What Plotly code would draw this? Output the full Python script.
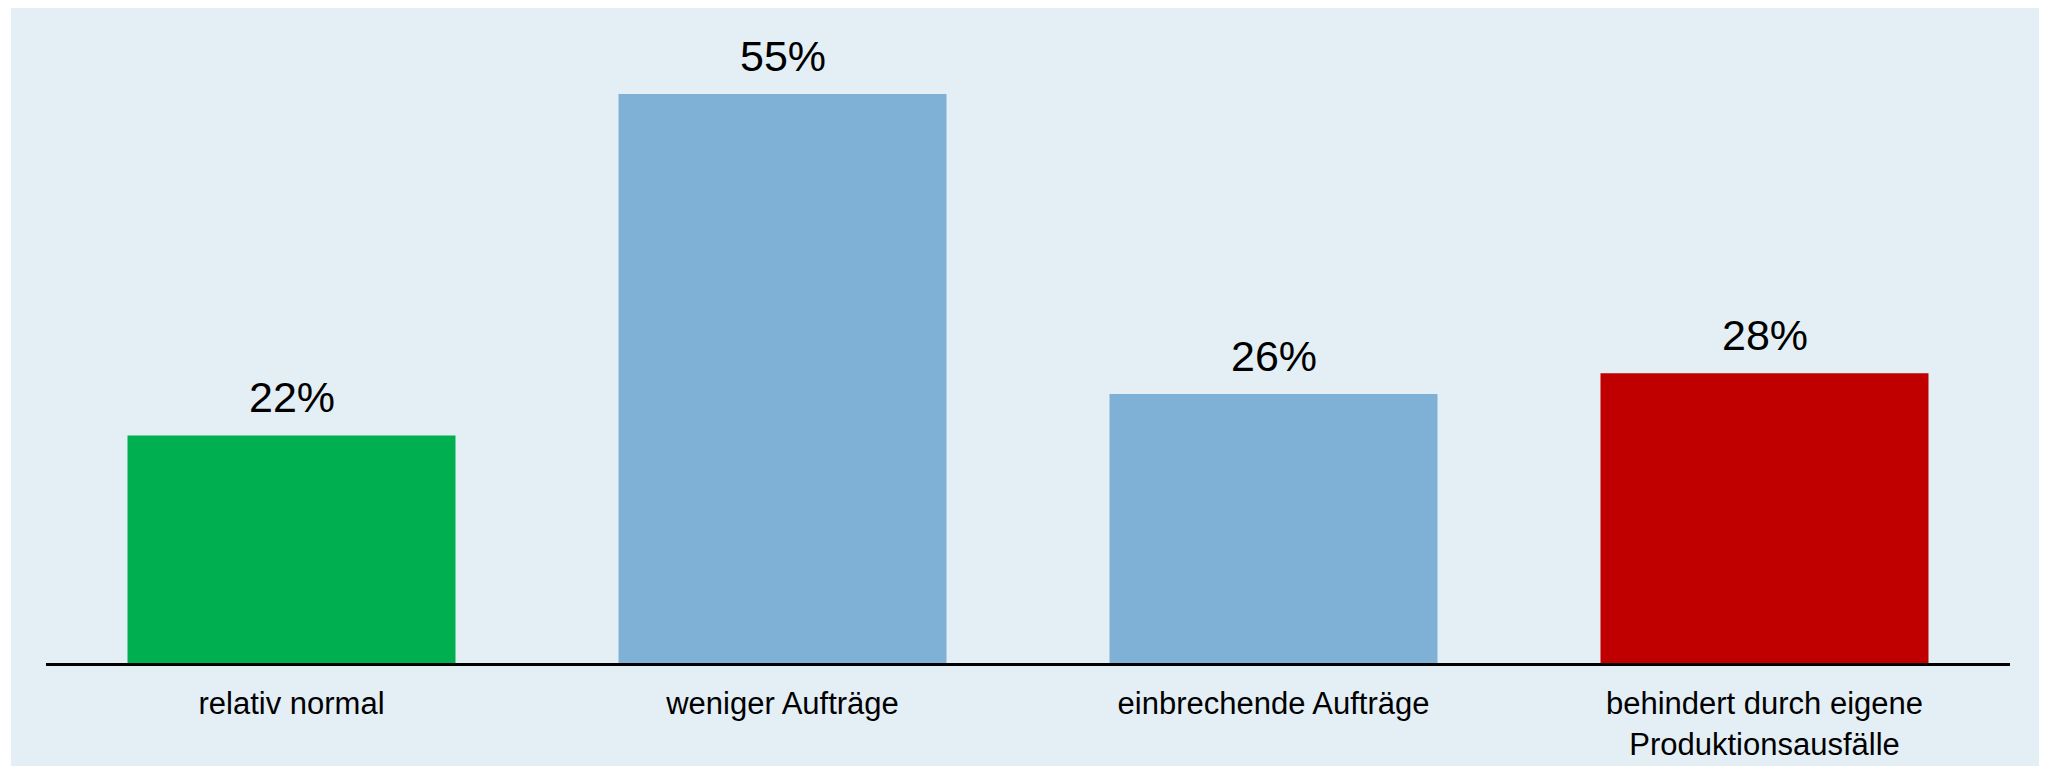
import plotly.graph_objects as go

categories = ["relativ normal", "weniger Aufträge", "einbrechende Aufträge",
              "behindert durch eigene<br>Produktionsausfälle"]
values = [22, 55, 26, 28]
labels = ["22%", "55%", "26%", "28%"]
colors = ["#00B050", "#7FB0D5", "#7FB0D5", "#C00000"]

# page body has an 8px default margin; figure sized to fit the window
OFF = 8
W, H = 2047 - OFF, 766 - OFF
ml, mr, mt, mb = 46 - OFF, 37, 0, 103
plot_w = W - ml - mr
plot_h = H - mt - mb

fig = go.Figure()
fig.add_trace(go.Bar(
    x=list(range(len(categories))), y=values,
    marker=dict(color=colors, line=dict(width=0)),
    width=0.668, hoverinfo="skip",
))

for i, (v, t) in enumerate(zip(values, labels)):
    fig.add_annotation(x=i, y=v, text=t, showarrow=False, yanchor="bottom",
                       yshift=12, font=dict(size=43, color="#000000",
                                            family="Liberation Sans, Arial"))

# light blue panel background
fig.add_shape(type="rect", xref="paper", yref="paper",
              x0=(11 - OFF - ml) / plot_w, x1=(W - ml) / plot_w,
              y0=-(mb + 2) / plot_h, y1=1 + 2 / plot_h,
              fillcolor="#E4EEF5", line=dict(width=0), layer="below")

fig.update_layout(
    width=W, height=H,
    margin=dict(l=ml, r=mr, t=mt, b=mb, pad=0),
    paper_bgcolor="#FFFFFF", plot_bgcolor="rgba(0,0,0,0)",
    showlegend=False,
    font=dict(family="Liberation Sans, Arial", color="#000000"),
)
fig.update_xaxes(
    tickmode="array", tickvals=list(range(len(categories))), ticktext=categories,
    range=[-0.5, len(categories) - 0.5],
    showline=True, linecolor="#000000", linewidth=3,
    showgrid=False, zeroline=False, ticks="",
    tickfont=dict(size=31, color="#000000"), ticklabelstandoff=11,
)
fig.update_yaxes(range=[0, plot_h / (569 / 55)], visible=False, showgrid=False)

fig.write_html("out.html")
